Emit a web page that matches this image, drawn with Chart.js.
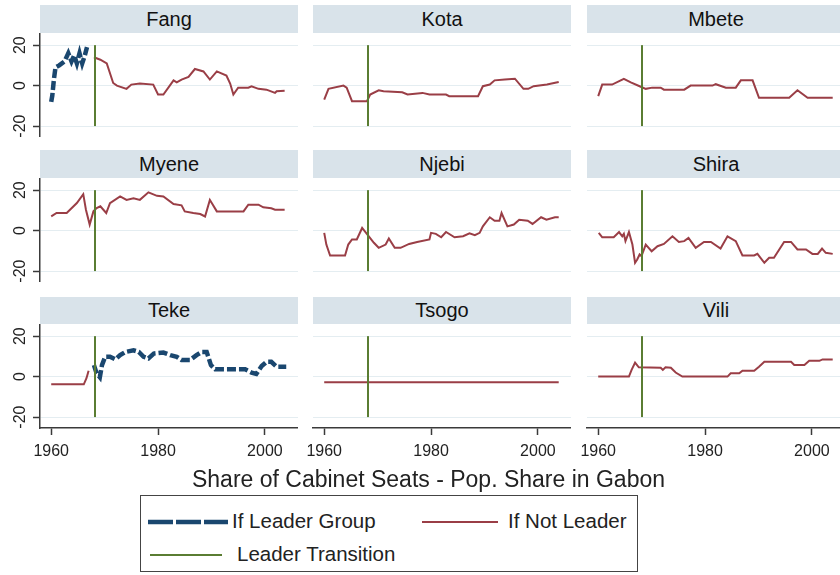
<!DOCTYPE html>
<html>
<head>
<meta charset="utf-8">
<script src="https://cdn.jsdelivr.net/npm/chart.js@4.4.0/dist/chart.umd.min.js"></script>
<style>
  body { margin: 0; background: #fff; font-family: "Liberation Sans", Arial, sans-serif; }
  #wrap { position: relative; width: 840px; height: 575px; overflow: hidden; }
  #wrap canvas, .strip, .txt, .legend { position: absolute; }
  .strip { background: #d9e3ea; color: #111; font-size: 20px; text-align: center; }
  .txt { color: #222; white-space: nowrap; }
  .legend { border: 1.5px solid #444; box-sizing: border-box; }
</style>
</head>
<body>
<div id="wrap"></div>
<script>
// groups, in panel order
const groups = ["Fang", "Kota", "Mbete", "Myene", "Njebi", "Shira", "Teke", "Tsogo", "Vili"];

const xTicks = [1960, 1980, 2000];
const yTicks = [-20, 0, 20];
const transitionYear = 1968.2;
const transitionSpan = [-20, 20];

// [year, cabinet share - pop share]
const fangLeader = [[1960,-8],[1960.2,-5],[1960.5,3],[1960.8,9],[1961.5,10],[1962.5,12],[1963.2,16],[1963.8,12],[1964.3,15],[1964.8,11],[1965.3,16],[1965.8,11],[1966.3,15],[1966.7,19]];
const fangOther = [[1968,14],[1969.2,12.8],[1970.4,11],[1971.6,1.3],[1972.3,0],[1974.1,-1.6],[1975,0.5],[1976.6,1],[1979.1,0.5],[1980,-4.4],[1981,-4.4],[1982.9,2.6],[1983.5,1.6],[1984.4,3],[1985.7,4.3],[1986.9,8.2],[1988.5,7],[1989.7,3],[1991,7],[1992.8,5],[1993.5,1],[1994.1,-4.4],[1995,-1],[1996.9,-1],[1997.5,-0.3],[1998.8,-1.6],[2000.3,-2],[2001.9,-3.6],[2002.2,-2.8],[2003.7,-2.5]];
const kotaOther = [[1960,-6.9],[1960.8,-1.6],[1963.6,0],[1964.2,-1],[1965.2,-7.7],[1968,-7.7],[1968.6,-4.4],[1970.2,-2.3],[1971.1,-2.8],[1974.6,-3.3],[1975.6,-4.4],[1978.4,-3.6],[1979.7,-4.4],[1982.8,-4.4],[1983.4,-5.2],[1988.8,-5.2],[1989.7,-0.3],[1991,0.5],[1991.9,2.6],[1993.8,3],[1995.7,3.4],[1997.3,-1.6],[1998.2,-1.6],[1999.2,-0.3],[2001.7,0.5],[2003.9,1.8]];
const mbeteOther = [[1960,-5.2],[1960.75,0.5],[1962.6,0.5],[1964.8,3.3],[1966.1,1.6],[1967.75,-0.3],[1968.9,-1.6],[1970.1,-1],[1971.7,-1],[1972.3,-2],[1976.1,-2],[1977.3,0],[1981.4,0],[1982,0.7],[1983.9,-1],[1985.75,-1],[1986.7,2.6],[1988.9,2.6],[1990.1,-6],[1995.75,-6],[1997.3,-2.3],[1999.2,-6],[2003.9,-6]];
const myeneOther = [[1960,7],[1961,8.7],[1962.9,8.7],[1964.8,13.6],[1966,18],[1966.5,10.3],[1967.2,3],[1967.9,9.5],[1968.5,11.1],[1969.2,12],[1970.3,8.7],[1971,13.6],[1972.9,16.9],[1974.1,15.2],[1975.4,16],[1976.6,15.2],[1978.2,18.9],[1979.8,17.2],[1981,16.9],[1982.9,13.1],[1984.4,12.5],[1985,9.5],[1986.6,8.7],[1987.9,8.2],[1988.8,7],[1989.7,15.2],[1991,9.5],[1996,9.5],[1996.9,12.8],[1998.8,12.8],[1999.7,11.5],[2001.2,11],[2001.9,10.3],[2003.7,10.3]];
const njebiOther = [[1960,-1.1],[1960.4,-6.9],[1961.1,-12.3],[1963.9,-12.3],[1964.5,-6.9],[1965.2,-4.4],[1966.1,-4.4],[1967.1,1.3],[1968.2,-2.3],[1969.3,-6],[1970.2,-8.5],[1971.5,-6.9],[1972.1,-3.9],[1973.2,-8.5],[1974.3,-8.5],[1975.9,-6.6],[1977.4,-5.6],[1979.7,-4.4],[1980,-1.1],[1980.9,-1.6],[1981.9,-3.3],[1982.8,-0.7],[1984.4,-3.3],[1986,-2.8],[1987.2,-1.3],[1988.2,-2.3],[1989.1,-1.1],[1989.7,2.1],[1991,6.6],[1991.9,4.9],[1992.8,4.9],[1993.2,8.7],[1994.3,2.1],[1995.5,3],[1996.5,5.4],[1998.1,4.9],[1999,3.3],[2000.6,6.6],[2001.6,5.4],[2003.2,6.6],[2003.9,6.6]];
const shiraOther = [[1960.1,-1.1],[1960.75,-3.3],[1962.9,-3.3],[1963.9,-0.7],[1964.5,-2.8],[1964.8,-1.6],[1965.1,-5.2],[1965.75,-0.7],[1966.4,-6.9],[1966.9,-15.9],[1967.3,-14.3],[1967.75,-11.8],[1968.1,-12.6],[1968.9,-6.9],[1970,-10.2],[1971.1,-7.7],[1972.3,-6.6],[1973.9,-2.8],[1975.1,-5.6],[1976.1,-5.2],[1976.9,-3.6],[1978.25,-8.5],[1979.8,-5.6],[1981.1,-5.6],[1982.9,-8.9],[1984.2,-2.8],[1985.75,-5.2],[1987,-12.3],[1989.2,-12.3],[1989.8,-11.5],[1991.1,-15.9],[1992,-13.4],[1992.9,-13.4],[1994.8,-5.6],[1996.1,-5.6],[1997.3,-9.3],[1998.9,-9.3],[2000.1,-11.5],[2001.1,-11.5],[2001.9,-8.9],[2002.6,-11],[2003.9,-11.5]];
const tekeOther = [[1960,-3.8],[1966.1,-3.8],[1966.6,-0.8],[1967,2.9]];
const tekeLeader = [[1968,5.7],[1968.5,1.6],[1969.1,-0.3],[1969.5,5.7],[1970.1,9.8],[1971,9.8],[1972,8.5],[1972.9,10.6],[1973.9,12.2],[1975.4,13],[1976.4,12.2],[1977.3,9.8],[1978.2,9],[1979.2,11.4],[1981,11.9],[1982.3,10.6],[1983.5,9.8],[1984.4,8.2],[1986,8.2],[1987.2,10.6],[1988.2,12.2],[1989.1,12.2],[1989.9,5.7],[1990.7,3.6],[1996.3,3.6],[1997.5,2],[1998.4,1.3],[1999.4,5.2],[2000.3,7.3],[2001.2,7.3],[2002.2,4.9],[2004,4.9]];
const tsogoOther = [[1960,-2.8],[2003.9,-2.8]];
const viliOther = [[1960,0],[1965.75,0],[1966.25,3.3],[1966.9,6.9],[1967.6,4.6],[1971.7,4.4],[1972.1,3.3],[1972.6,4.6],[1973.6,4.4],[1974.5,2],[1975.75,0],[1984.2,0],[1984.8,1.6],[1986.4,1.6],[1987,2.9],[1989.2,2.9],[1990.1,4.9],[1991.1,7.3],[1996.1,7.3],[1996.7,5.7],[1998.6,5.7],[1999.5,7.8],[2001.4,7.8],[2002,8.5],[2003.9,8.5]];

const leaderData = [fangLeader, [], [], [], [], [], tekeLeader, [], []];
const otherData = [fangOther, kotaOther, mbeteOther, myeneOther, njebiOther, shiraOther, tekeOther, tsogoOther, viliOther];

const NAVY = "#1a476f";
const MAROON = "#9a3e46";
const GREEN = "#5a7d32";
const AXIS = "#3a3a3a";
const FONT = '"Liberation Sans", Arial, sans-serif';

// panel layout
const colLeft = [40, 313, 587];
const panelW = 258;
const yAxisW = 40;
const xAxisH = 45;
const plotTop = [33, 178, 324];
const plotH = 104;
const stripTop = [5, 150, 297];

const wrap = document.getElementById("wrap");

const tickLabels = {
  id: "tickLabels",
  afterDraw(chart, args, opts) {
    const ctx = chart.ctx;
    ctx.save();
    ctx.fillStyle = "#222";
    ctx.font = "16px " + FONT;
    ctx.textAlign = "center";
    ctx.textBaseline = "middle";
    if (opts.showY) {
      yTicks.forEach((v) => {
        const py = chart.scales.y.getPixelForValue(v);
        ctx.save();
        ctx.translate(21, py);
        ctx.rotate(-Math.PI / 2);
        ctx.fillText(String(v), 0, 0);
        ctx.restore();
      });
    }
    if (opts.showX) {
      xTicks.forEach((v) => {
        ctx.fillText(String(v), chart.scales.x.getPixelForValue(v), chart.chartArea.bottom + 24);
      });
    }
    ctx.restore();
  },
};

const toPts = (arr) => arr.map(([x, y]) => ({ x, y }));

groups.forEach((name, i) => {
  const r = Math.floor(i / 3);
  const c = i % 3;
  const bottomRow = r === 2;

  const strip = document.createElement("div");
  strip.className = "strip";
  strip.style.left = colLeft[c] + "px";
  strip.style.top = stripTop[r] + "px";
  strip.style.width = panelW + "px";
  strip.style.height = plotTop[r] - stripTop[r] + "px";
  strip.style.lineHeight = plotTop[r] - stripTop[r] + "px";
  strip.textContent = name;
  wrap.appendChild(strip);

  const left = colLeft[c] - yAxisW;
  const w = panelW + yAxisW;
  const h = plotH + (bottomRow ? xAxisH : 0);
  const canvas = document.createElement("canvas");
  canvas.width = w;
  canvas.height = h;
  canvas.style.left = left + "px";
  canvas.style.top = plotTop[r] + "px";
  canvas.style.width = w + "px";
  canvas.style.height = h + "px";
  wrap.appendChild(canvas);

  const datasets = [
    {
      data: [{ x: transitionYear, y: transitionSpan[0] }, { x: transitionYear, y: transitionSpan[1] }],
      borderColor: GREEN,
      borderWidth: 2,
      order: 0,
    },
    {
      data: toPts(otherData[i]),
      borderColor: MAROON,
      borderWidth: 2,
      order: 2,
    },
  ];
  if (leaderData[i].length) {
    datasets.push({
      data: toPts(leaderData[i]),
      borderColor: NAVY,
      borderWidth: 4.5,
      borderDash: [9, 3],
      order: 1,
    });
  }

  new Chart(canvas, {
    type: "line",
    data: { datasets },
    plugins: [tickLabels],
    options: {
      responsive: false,
      maintainAspectRatio: false,
      animation: false,
      layout: { padding: 0 },
      elements: { point: { radius: 0 }, line: { tension: 0, fill: false } },
      plugins: {
        legend: { display: false },
        tooltip: { enabled: false },
        tickLabels: { showY: c === 0, showX: bottomRow },
      },
      scales: {
        x: {
          type: "linear",
          min: 1957.9,
          max: 2006.2,
          display: bottomRow,
          afterBuildTicks: (s) => { s.ticks = xTicks.map((v) => ({ value: v })); },
          afterFit: (s) => { s.height = bottomRow ? xAxisH : 0; },
          grid: { drawOnChartArea: false, drawTicks: true, tickLength: 7, tickColor: AXIS, tickWidth: 1.5 },
          border: { display: true, color: AXIS, width: 1.5 },
          ticks: { display: false },
        },
        y: {
          type: "linear",
          min: -25.4,
          max: 26,
          afterBuildTicks: (s) => { s.ticks = yTicks.map((v) => ({ value: v })); },
          afterFit: (s) => { s.width = yAxisW; },
          grid: { color: "#e4edf1", lineWidth: 1, drawTicks: c === 0, tickLength: 7, tickColor: AXIS, tickWidth: 1.5 },
          border: { display: c === 0, color: AXIS, width: 1.5 },
          ticks: { display: false },
        },
      },
    },
  });
});

function addText(str, left, top, size, extra) {
  const d = document.createElement("div");
  d.className = "txt";
  d.style.left = left + "px";
  d.style.top = top + "px";
  d.style.fontSize = size + "px";
  d.style.lineHeight = size + 4 + "px";
  if (extra) Object.assign(d.style, extra);
  d.textContent = str;
  wrap.appendChild(d);
}

// x axis title
addText("Share of Cabinet Seats - Pop. Share in Gabon", 0, 466, 23, { width: "857px", textAlign: "center" });

// legend
const box = document.createElement("div");
box.className = "legend";
Object.assign(box.style, { left: "140px", top: "495px", width: "498px", height: "77px" });
wrap.appendChild(box);

function addSample(x1, x2, y, color, width, dash) {
  const ns = "http://www.w3.org/2000/svg";
  const svg = document.createElementNS(ns, "svg");
  svg.setAttribute("width", x2 - x1 + 4);
  svg.setAttribute("height", 10);
  svg.style.position = "absolute";
  svg.style.left = x1 - 2 + "px";
  svg.style.top = y - 5 + "px";
  const ln = document.createElementNS(ns, "line");
  ln.setAttribute("x1", 2);
  ln.setAttribute("x2", x2 - x1 + 2);
  ln.setAttribute("y1", 5);
  ln.setAttribute("y2", 5);
  ln.setAttribute("stroke", color);
  ln.setAttribute("stroke-width", width);
  if (dash) ln.setAttribute("stroke-dasharray", dash);
  svg.appendChild(ln);
  wrap.appendChild(svg);
}

addSample(148, 228, 522, NAVY, 4.5, "25 3");
addText("If Leader Group", 232, 509, 20.5);
addSample(422, 498, 522, MAROON, 2);
addText("If Not Leader", 508, 509, 20.5);
addSample(150, 222, 555, GREEN, 2);
addText("Leader Transition", 237, 542, 20.5);
</script>
</body>
</html>
